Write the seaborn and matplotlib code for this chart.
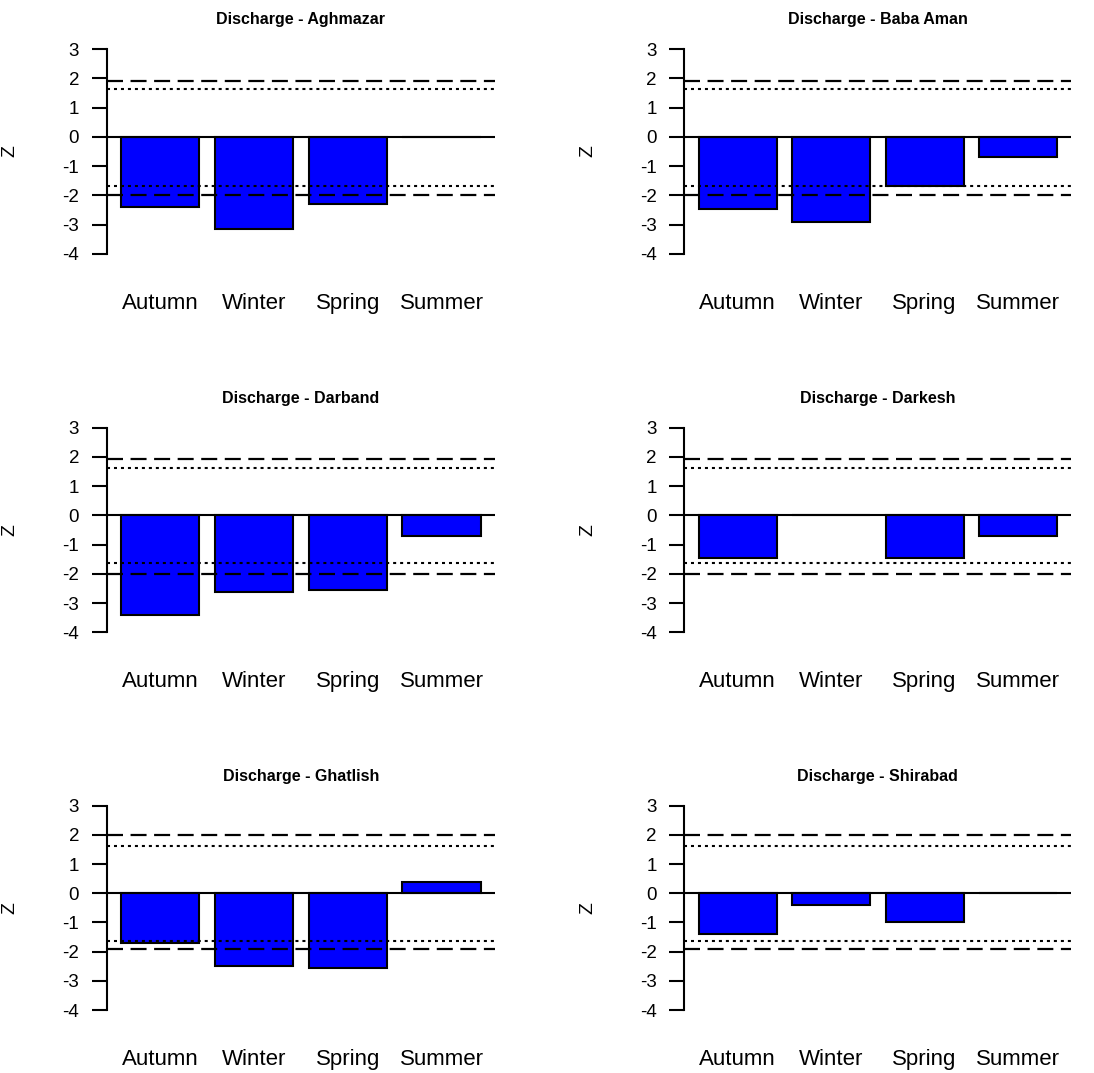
import matplotlib
matplotlib.use("Agg")
import matplotlib.pyplot as plt
import seaborn as sns
import pandas as pd

# ---- data ----
seasons = ["Autumn", "Winter", "Spring", "Summer"]
stations = ["Aghmazar", "Baba Aman", "Darband", "Darkesh", "Ghatlish", "Shirabad"]
aghmazar = [-2.39, -3.14, -2.30, 0.0]
baba_aman = [-2.47, -2.91, -1.68, -0.68]
darband = [-3.40, -2.62, -2.55, -0.69]
darkesh = [-1.46, 0.0, -1.46, -0.69]
ghatlish = [-1.70, -2.48, -2.56, 0.38]
shirabad = [-1.39, -0.39, -1.00, 0.0]
upper_dashed = [1.92, 1.92, 1.92, 1.92, 2.00, 2.00]
upper_dotted = [1.62, 1.62, 1.62, 1.62, 1.62, 1.62]
lower_dotted = [-1.68, -1.68, -1.62, -1.62, -1.62, -1.62]
lower_dashed = [-1.99, -1.99, -1.99, -1.99, -1.92, -1.92]
yticks = [3, 2, 1, 0, -1, -2, -3, -4]

series = [aghmazar, baba_aman, darband, darkesh, ghatlish, shirabad]

sns.set_style("white")
plt.rcParams['font.family'] = ['Liberation Sans', 'DejaVu Sans']
plt.rcParams['text.color'] = 'black'
plt.rcParams['axes.labelcolor'] = 'black'
plt.rcParams['xtick.color'] = 'black'
plt.rcParams['ytick.color'] = 'black'

W, H = 1094, 1073
fig = plt.figure(figsize=(W / 100, H / 100), dpi=100)

col_x = [(106.5, 495.0), (684.4, 1071.3)]
row_y = [(40.8, 262.2), (419.5, 640.5), (797.5, 1018.2)]

for i, (name, vals) in enumerate(zip(stations, series)):
    r, c = divmod(i, 2)
    x0, x1 = col_x[c]
    y0, y1 = row_y[r]
    ax = fig.add_axes([x0 / W, 1 - y1 / H, (x1 - x0) / W, (y1 - y0) / H])
    df = pd.DataFrame({"season": seasons, "z": vals})
    sns.barplot(data=df, x="season", y="z", ax=ax, color="#0000FF",
                saturation=1, width=1 / 1.2, edgecolor="black",
                linewidth=1.5, errorbar=None, zorder=2)
    ax.axhline(0, color="black", lw=1.5, zorder=3)
    ax.axhline(upper_dashed[i], color="black", lw=1.6,
               linestyle=(0, (7.2, 3.4)), zorder=4)
    ax.axhline(lower_dashed[i], color="black", lw=1.6,
               linestyle=(0, (7.2, 3.4)), zorder=4)
    ax.axhline(upper_dotted[i], color="black", lw=1.5,
               linestyle=(0, (1.45, 1.9)), zorder=4)
    ax.axhline(lower_dotted[i], color="black", lw=1.5,
               linestyle=(0, (1.45, 1.9)), zorder=4)

    ax.set_xlim(-0.57, 3.57)
    ax.set_ylim(-4.28, 3.28)
    ax.set_yticks(yticks)
    ax.set_yticklabels([str(t) for t in yticks], fontsize=13.5)
    for s in ["top", "right", "bottom"]:
        ax.spines[s].set_visible(False)
    ax.spines["left"].set_bounds(-4, 3)
    ax.spines["left"].set_linewidth(1.5)
    ax.spines["left"].set_color("black")
    ax.tick_params(axis="y", length=10.8, width=1.5, pad=9, colors="black",
                   direction="out", left=True)
    ax.tick_params(axis="x", length=0, pad=22, labelsize=16, colors="black")
    ax.set_xlabel("")
    ax.set_ylabel("Z", fontsize=14, labelpad=0, color="black")
    ax.yaxis.set_label_coords(-0.228, 0.5)
    ax.set_title(f"Discharge - {name}", fontsize=11.5, fontweight="bold",
                 pad=12, color="black")
    ax.set_facecolor("white")

fig.savefig("out.png", dpi=100, facecolor="white")
